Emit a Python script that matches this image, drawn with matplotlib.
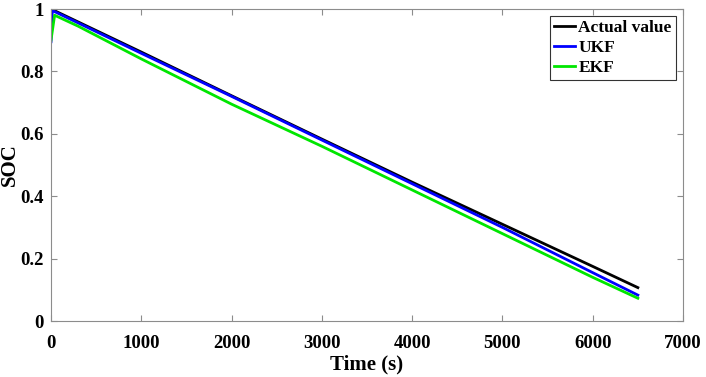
import numpy as np
import matplotlib
matplotlib.use("Agg")
from matplotlib import pyplot as plt
from matplotlib.ticker import FuncFormatter

# data
t_actual = [0, 1000, 2000, 3000, 4000, 5000, 6000, 6500]
soc_actual = [1.0, 0.862, 0.722, 0.583, 0.445, 0.31, 0.175, 0.107]

t_ukf = [0, 15, 1000, 2000, 3000, 4000, 5000, 6000, 6500]
soc_ukf = [0.895, 0.995, 0.858, 0.72, 0.58, 0.44, 0.30, 0.155, 0.083]

t_ekf = [0, 40, 300, 1000, 2000, 3000, 4000, 5000, 6000, 6500]
soc_ekf = [0.90, 0.98, 0.945, 0.84, 0.695, 0.56, 0.42, 0.28, 0.14, 0.073]

x_ticks = [0, 1000, 2000, 3000, 4000, 5000, 6000, 7000]
y_ticks = [0, 0.2, 0.4, 0.6, 0.8, 1]

plt.rcParams['font.family'] = ['Liberation Serif', 'DejaVu Serif']
plt.rcParams['font.weight'] = 'bold'

fig = plt.figure(figsize=(7.06, 3.77), dpi=100)
ax = fig.add_axes([51 / 706, 56 / 377, 632 / 706, 312 / 377])

ax.plot(t_actual, soc_actual, color='black', lw=2, label='Actual value')
ax.plot(t_ukf, soc_ukf, color='#0000ff', lw=2, label='UKF')
ax.plot(t_ekf, soc_ekf, color='#00e600', lw=2, label='EKF')

ax.set_xlim(0, 7000)
ax.set_ylim(0, 1)
ax.set_xticks(x_ticks)
ax.set_yticks(y_ticks)
ax.yaxis.set_major_formatter(FuncFormatter(lambda v, p: '%g' % v))

for s in ax.spines.values():
    s.set_color('#8c8c8c')
    s.set_linewidth(0.8)
ax.tick_params(direction='in', top=True, right=True, length=4, width=0.8,
               color='#8c8c8c', labelsize=13.5)
ax.tick_params(axis='x', pad=10)
ax.tick_params(axis='y', pad=5)
for lab in ax.get_xticklabels() + ax.get_yticklabels():
    lab.set_fontweight('bold')

ax.set_xlabel('Time (s)', fontsize=15, fontweight='bold')
ax.set_ylabel('SOC', fontsize=15, fontweight='bold')
ax.xaxis.set_label_coords(0.5, -0.107)
ax.yaxis.set_label_coords(-0.049, 0.5)

leg = ax.legend(loc='upper right', handlelength=1.2, handletextpad=0.2,
                borderpad=0.25, labelspacing=0.2, fancybox=False,
                borderaxespad=0.4, prop={'weight': 'bold', 'size': 12.5})
leg.get_frame().set_edgecolor('black')
leg.get_frame().set_linewidth(0.8)

fig.savefig('out.png', dpi=100)
